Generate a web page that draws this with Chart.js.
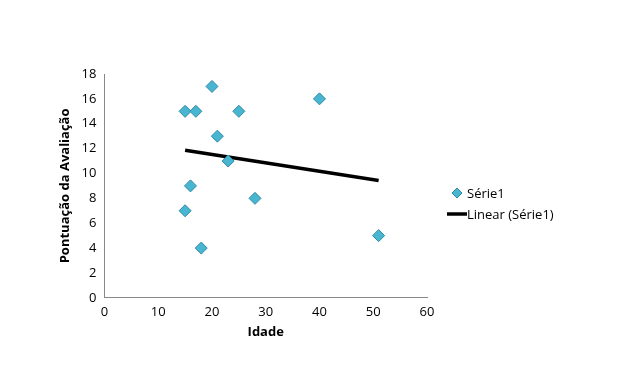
<!DOCTYPE html>
<html>
<head>
<meta charset="utf-8">
<script src="https://cdn.jsdelivr.net/npm/chart.js@4"></script>
<style>
  html, body { margin: 0; padding: 0; background: #fff; }
  .wrap { width: 632px; height: 386px; }
</style>
</head>
<body>
<div class="wrap"><canvas id="scatter"></canvas></div>
<script>
// values
const idade = [15, 17, 20, 21, 25, 40, 23, 16, 28, 15, 18, 51]
const pontuacao = [15, 15, 17, 13, 15, 16, 11, 9, 8, 7, 4, 5]
const trendX = [15, 51]
const trendY = [11.86, 9.44]
const xTicks = [0, 10, 20, 30, 40, 50, 60]
const yTicks = [0, 2, 4, 6, 8, 10, 12, 14, 16, 18]

const font = "'Open Sans', 'DejaVu Sans', sans-serif"
const markerColor = '#48b6d1'
const markerBorder = '#2f8aa6'

// legend drawn by hand so it sits where the original one does
const sideLegend = {
  id: 'sideLegend',
  afterDraw(chart) {
    const c = chart.ctx
    const sets = chart.data.datasets
    c.save()
    c.font = '13px ' + font
    c.fillStyle = '#000'
    c.textBaseline = 'middle'
    // Série1
    let y = 193
    c.beginPath()
    c.moveTo(457, y - 5)
    c.lineTo(462, y)
    c.lineTo(457, y + 5)
    c.lineTo(452, y)
    c.closePath()
    c.fillStyle = markerColor
    c.fill()
    c.strokeStyle = markerBorder
    c.lineWidth = 1
    c.stroke()
    c.fillStyle = '#000'
    c.fillText(sets[0].label, 467, y + 1)
    // Linear (Série1)
    y = 214
    c.beginPath()
    c.moveTo(447, y)
    c.lineTo(467, y)
    c.strokeStyle = '#000'
    c.lineWidth = 3.5
    c.stroke()
    c.fillText(sets[1].label, 467, y + 1)
    c.restore()
  }
}

new Chart(document.getElementById('scatter'), {
  type: 'scatter',
  data: {
    datasets: [{
      label: 'Série1',
      data: idade.map((x, i) => ({ x: x, y: pontuacao[i] })),
      pointStyle: 'rectRot',
      pointRadius: 6,
      pointHoverRadius: 6,
      backgroundColor: markerColor,
      borderColor: markerBorder,
      borderWidth: 1
    }, {
      label: 'Linear (Série1)',
      type: 'line',
      data: trendX.map((x, i) => ({ x: x, y: trendY[i] })),
      borderColor: '#000',
      borderWidth: 3.5,
      pointRadius: 0,
      fill: false
    }]
  },
  options: {
    responsive: true,
    maintainAspectRatio: false,
    animation: false,
    layout: {
      padding: { left: 53, top: 74, right: 205, bottom: 42 }
    },
    plugins: {
      legend: { display: false },
      tooltip: { enabled: false }
    },
    scales: {
      x: {
        type: 'linear',
        min: 0,
        max: 60,
        afterBuildTicks: axis => { axis.ticks = xTicks.map(v => ({ value: v })) },
        grid: { display: false, drawOnChartArea: false, drawTicks: true, tickLength: 5, color: '#888' },
        border: { color: '#888', width: 1 },
        ticks: { color: '#000', font: { family: font, size: 13 }, padding: 2 },
        title: { display: true, text: 'Idade', color: '#000', font: { family: font, size: 13, weight: 'bold' }, padding: { top: 2 } }
      },
      y: {
        min: 0,
        max: 18,
        afterBuildTicks: axis => { axis.ticks = yTicks.map(v => ({ value: v })) },
        grid: { display: false, drawOnChartArea: false, drawTicks: true, tickLength: 5, color: '#888' },
        border: { color: '#888', width: 1 },
        ticks: { color: '#000', font: { family: font, size: 13 }, padding: 3 },
        title: { display: true, text: 'Pontuação da Avaliação', color: '#000', font: { family: font, size: 13, weight: 'bold' }, padding: { bottom: 6 } }
      }
    }
  },
  plugins: [sideLegend]
})
</script>
</body>
</html>
